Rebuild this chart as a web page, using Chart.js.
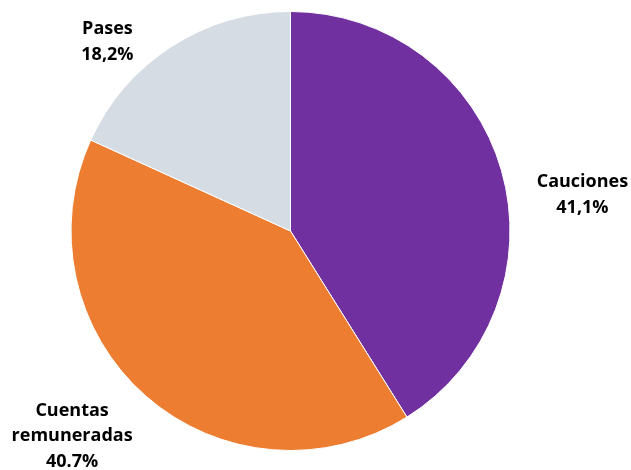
<!DOCTYPE html>
<html><head><meta charset="utf-8">
<script src="https://cdn.jsdelivr.net/npm/chart.js@4/dist/chart.umd.min.js"></script>
<style>html,body{margin:0;padding:0;background:#fff}#w{width:631px;height:470px}</style>
</head><body><div id="w"><canvas id="c"></canvas></div>
<script>
const categories = ["Cauciones", "Cuentas remuneradas", "Pases"];
const values = [41.1, 40.7, 18.2];
const valueLabels = ["41,1%", "40.7%", "18,2%"];
const labelLines = [["Cauciones"], ["Cuentas", "remuneradas"], ["Pases"]];
const colors = ["#7030A0", "#ED7D31", "#D6DCE4"];
const labelPos = [[1.33, -0.164], [-0.995, 0.935], [-0.834, -0.861]];

const labelPlugin = {
  id: 'lbl',
  afterDraw(chart) {
    const ctx = chart.ctx;
    const meta = chart.getDatasetMeta(0);
    ctx.save();
    ctx.font = 'bold 18px "Open Sans", "Liberation Sans", sans-serif';
    ctx.fillStyle = '#000';
    ctx.textAlign = 'center';
    ctx.textBaseline = 'middle';
    meta.data.forEach((arc, i) => {
      const r = arc.outerRadius;
      const cx = arc.x + labelPos[i][0] * r;
      const cy = arc.y + labelPos[i][1] * r;
      const lines = labelLines[i].concat([valueLabels[i]]);
      const lh = 25.5;
      const y0 = cy - (lines.length - 1) * lh / 2;
      lines.forEach((t, k) => ctx.fillText(t, cx, y0 + k * lh));
    });
    ctx.restore();
  }
};

new Chart(document.getElementById('c'), {
  type: 'pie',
  data: { labels: categories, datasets: [{ data: values, backgroundColor: colors, borderColor: '#fff', borderWidth: 1 }] },
  options: {
    responsive: true, maintainAspectRatio: false, animation: false,
    layout: { padding: { left: 70, right: 120, top: 11, bottom: 19 } },
    plugins: { legend: { display: false }, tooltip: { enabled: false } }
  },
  plugins: [labelPlugin]
});
</script></body></html>
